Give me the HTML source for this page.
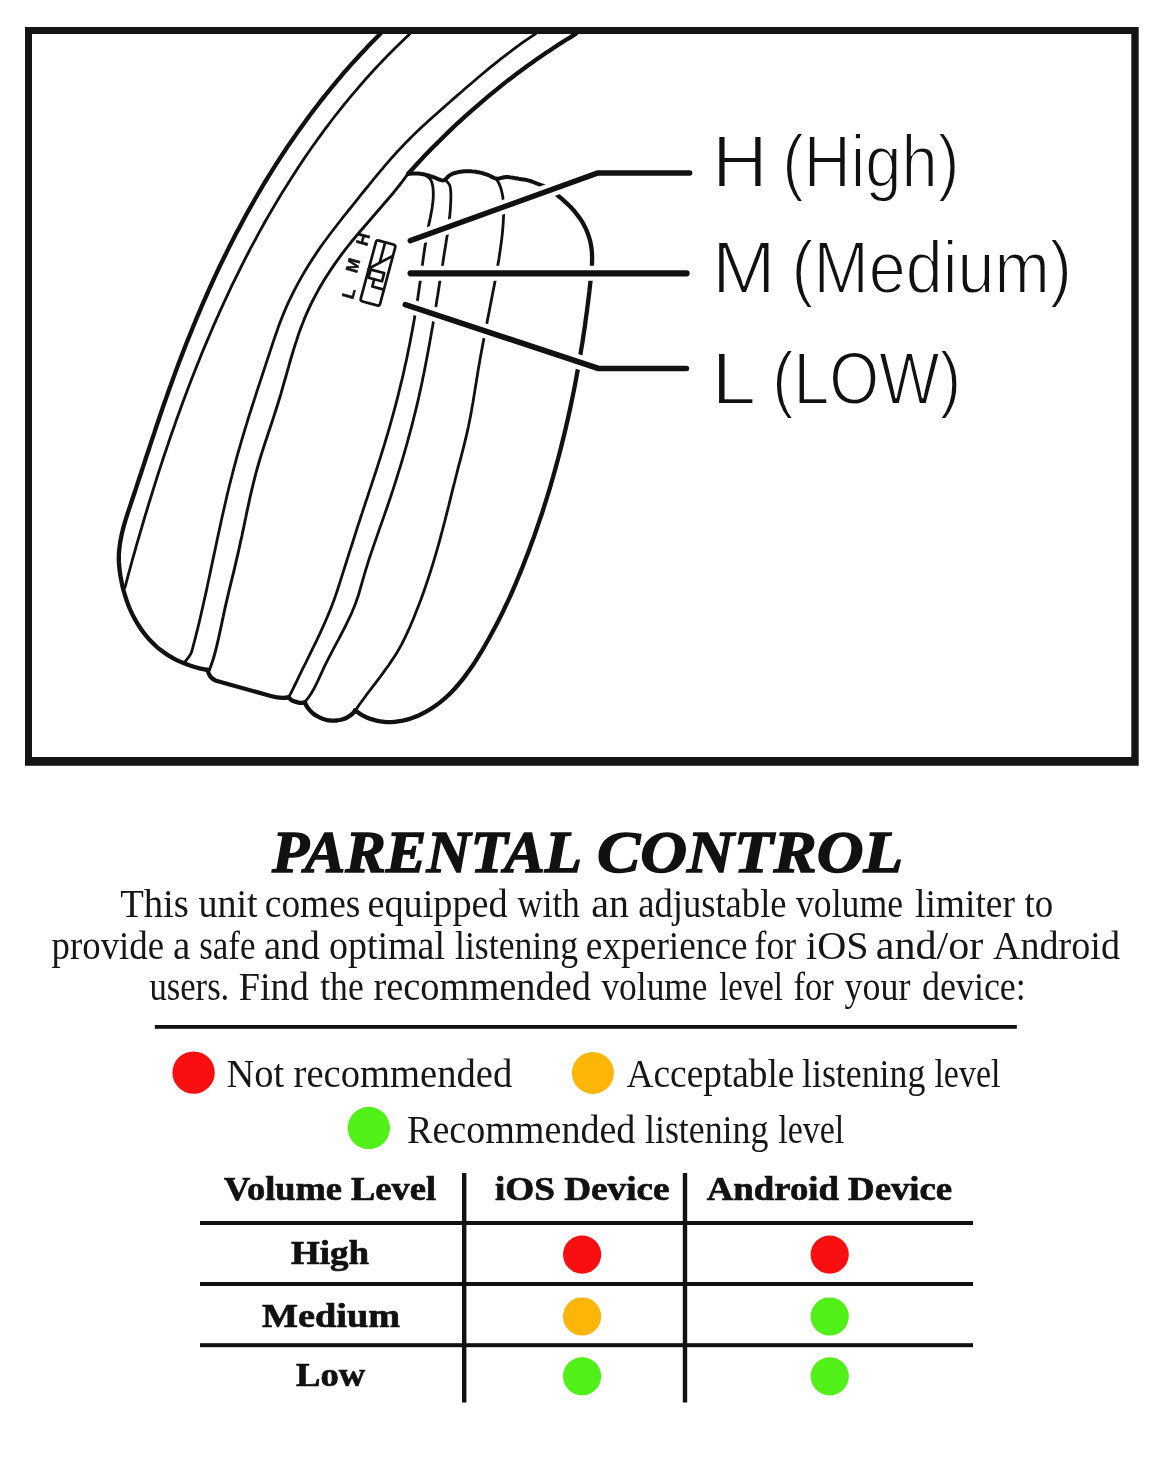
<!DOCTYPE html>
<html lang="en">
<head>
<meta charset="utf-8">
<title>Parental Control</title>
<style>
html,body{margin:0;padding:0;background:#fff;}
body{width:1171px;height:1463px;overflow:hidden;position:relative;}
svg{position:absolute;left:0;top:0;display:block;will-change:transform;}
.sans{font-family:"Liberation Sans",sans-serif;}
.serif{font-family:"Liberation Serif",serif;}
</style>
</head>
<body>
<svg width="1171" height="1463" viewBox="0 0 1171 1463">
<rect x="0" y="0" width="1171" height="1463" fill="#fff"/>
<!-- illustration frame -->
<path d="M25 27H1138.7V765.7H25ZM32 34V757H1131.3V34Z" fill="#141414" fill-rule="evenodd"/>
<clipPath id="fr"><rect x="31" y="33" width="1101" height="725"/></clipPath>
<g clip-path="url(#fr)">
<g fill="none" stroke="#111" stroke-linecap="round" stroke-linejoin="round">
<path d="M380.4 33.8C379.4 34.8 376.4 37.8 374.4 39.8C372.4 41.8 370.5 43.8 368.5 45.8C366.6 47.9 364.6 49.9 362.7 52.0C360.8 54.0 358.9 56.1 357.0 58.2C355.1 60.2 353.2 62.3 351.3 64.4C349.5 66.5 347.6 68.6 345.7 70.7C343.9 72.9 342.1 75.0 340.3 77.1C338.4 79.3 336.6 81.4 334.8 83.6C333.0 85.7 331.3 87.9 329.5 90.1C327.7 92.2 326.0 94.4 324.2 96.6C322.5 98.8 320.7 101.0 319.0 103.2C317.3 105.5 315.6 107.7 313.9 109.9C312.2 112.2 310.5 114.4 308.8 116.7C307.2 118.9 305.5 121.2 303.9 123.4C302.2 125.7 300.6 128.0 299.0 130.3C297.3 132.6 295.7 134.9 294.1 137.2C292.5 139.5 290.9 141.8 289.4 144.1C287.8 146.4 286.2 148.8 284.7 151.1C283.1 153.4 281.6 155.8 280.0 158.1C278.5 160.5 277.0 162.9 275.5 165.2C274.0 167.6 272.5 170.0 271.0 172.3C269.5 174.7 268.1 177.1 266.6 179.5C265.1 181.9 263.7 184.3 262.2 186.7C260.8 189.1 259.4 191.6 258.0 194.0C256.6 196.4 255.1 198.8 253.8 201.3C252.4 203.7 251.0 206.2 249.6 208.6C248.2 211.1 246.9 213.5 245.5 216.0C244.2 218.5 242.8 220.9 241.5 223.4C240.2 225.9 238.9 228.4 237.5 230.8C236.2 233.3 234.9 235.8 233.7 238.3C232.4 240.8 231.1 243.3 229.8 245.8C228.6 248.3 227.3 250.9 226.1 253.4C224.8 255.9 223.6 258.4 222.4 260.9C221.1 263.5 219.9 266.0 218.7 268.5C217.5 271.1 216.3 273.6 215.1 276.2C214.0 278.7 212.8 281.3 211.6 283.8C210.5 286.4 209.3 288.9 208.2 291.5C207.0 294.1 205.9 296.6 204.8 299.2C203.6 301.8 202.5 304.4 201.4 306.9C200.3 309.5 199.2 312.1 198.1 314.7C197.0 317.3 195.9 319.9 194.9 322.5C193.8 325.1 192.7 327.7 191.7 330.3C190.6 332.9 189.6 335.5 188.5 338.1C187.5 340.7 186.4 343.3 185.4 345.9C184.4 348.5 183.4 351.1 182.4 353.7C181.4 356.4 180.4 359.0 179.4 361.6C178.4 364.2 177.4 366.9 176.4 369.5C175.5 372.1 174.5 374.7 173.5 377.4C172.6 380.0 171.6 382.6 170.7 385.3C169.7 387.9 168.8 390.5 167.8 393.2C166.9 395.8 166.0 398.5 165.1 401.1C164.1 403.7 163.2 406.4 162.3 409.0C161.4 411.7 160.5 414.3 159.6 417.0C158.7 419.6 157.8 422.3 156.9 424.9C156.0 427.6 155.1 430.2 154.3 432.9C153.4 435.5 152.5 438.2 151.6 440.9C150.7 443.5 149.8 446.2 149.0 448.8C148.1 451.5 147.2 454.2 146.3 456.8C145.4 459.5 144.6 462.2 143.7 464.9C142.8 467.5 141.9 470.2 141.1 472.9C140.2 475.5 139.3 478.2 138.4 480.9C137.5 483.6 136.6 486.3 135.8 488.9C134.9 491.6 134.0 494.3 133.1 497.0C132.2 499.7 131.3 502.4 130.4 505.1C129.5 507.8 128.6 510.4 127.7 513.1C126.9 515.8 126.0 518.5 125.2 521.2C124.4 523.9 123.6 526.7 122.9 529.4C122.3 532.1 121.6 534.8 121.1 537.5C120.5 540.3 120.0 543.0 119.7 545.7C119.3 548.5 119.1 551.2 118.9 554.0C118.8 556.7 118.8 559.5 118.9 562.2C119.1 565.0 119.3 567.8 119.7 570.6C120.0 573.3 120.4 576.1 121.0 578.9C121.5 581.7 122.1 584.4 122.7 587.2C123.4 589.9 124.1 592.7 125.0 595.4C125.8 598.1 126.7 600.8 127.7 603.4C128.7 606.1 129.8 608.7 131.0 611.3C132.1 613.8 133.4 616.4 134.7 618.8C136.0 621.3 137.5 623.7 139.0 626.0C140.5 628.4 142.1 630.7 143.8 632.9C145.5 635.1 147.3 637.2 149.1 639.3C151.0 641.3 152.9 643.3 155.0 645.2C157.0 647.1 159.1 648.9 161.4 650.6C163.6 652.3 165.9 653.9 168.3 655.4C170.7 656.9 173.2 658.3 175.7 659.6C178.3 660.9 180.9 662.0 183.5 663.1C186.2 664.2 188.8 665.2 191.5 666.0C194.2 666.9 196.9 667.7 199.5 668.4C202.2 669.0 206.1 669.8 207.5 670.1" stroke-width="4.3"/>
<path d="M207.6 669.6C208.5 675 211.5 679 216.1 680.7L270.8 696C277 697.8 283 698.3 288.4 697.3" stroke-width="4.3"/>
<path d="M288.4 697.3C289.1 697.9 290.8 699.9 292.7 700.8C294.6 701.7 297.5 702.5 299.5 702.8C301.5 703.1 303.8 702.5 304.7 702.5" stroke-width="4.3"/>
<path d="M304.8 702.4C305.1 702.9 305.8 704.6 306.4 705.6C307.0 706.7 307.7 707.7 308.4 708.6C309.1 709.6 309.9 710.5 310.7 711.3C311.6 712.1 312.4 712.9 313.4 713.7C314.3 714.4 315.3 715.1 316.3 715.7C317.3 716.3 318.3 716.9 319.4 717.4C320.4 717.9 321.5 718.4 322.6 718.8C323.8 719.2 324.9 719.5 326.0 719.8C327.2 720.0 328.4 720.3 329.5 720.4C330.7 720.6 331.9 720.6 333.1 720.7C334.2 720.7 335.4 720.6 336.6 720.5C337.7 720.4 338.9 720.2 340.1 720.0C341.2 719.7 342.3 719.4 343.4 719.0C344.5 718.7 345.6 718.2 346.7 717.7C347.7 717.1 348.7 716.5 349.7 715.9C350.7 715.2 351.6 714.4 352.5 713.6C353.4 712.8 354.7 711.4 355.1 710.9" stroke-width="4.3"/>
<path d="M354.9 710.2C356.2 711.1 359.9 713.8 362.5 715.3C365.1 716.7 367.8 717.9 370.4 718.9C373.1 719.8 375.8 720.6 378.4 721.1C381.1 721.6 383.9 721.9 386.6 722.1C389.3 722.2 392.0 722.1 394.7 721.9C397.4 721.7 400.1 721.2 402.8 720.7C405.5 720.1 408.2 719.4 410.8 718.5C413.4 717.6 416.0 716.6 418.6 715.5C421.1 714.4 423.6 713.1 426.1 711.7C428.5 710.4 430.9 708.9 433.2 707.3C435.5 705.8 437.8 704.1 440.0 702.4C442.2 700.7 444.3 698.9 446.3 697.0C448.4 695.1 450.4 693.2 452.3 691.2C454.2 689.2 456.1 687.1 457.9 685.0C459.7 682.9 461.5 680.8 463.2 678.6C464.9 676.4 466.6 674.1 468.2 671.8C469.9 669.5 471.4 667.2 473.0 664.9C474.6 662.5 476.1 660.2 477.6 657.8C479.1 655.4 480.5 653.0 482.0 650.6C483.4 648.2 484.8 645.7 486.2 643.3C487.6 640.9 489.0 638.4 490.3 636.0C491.7 633.5 493.0 631.1 494.3 628.6C495.6 626.1 496.9 623.6 498.2 621.2C499.4 618.7 500.7 616.2 501.9 613.7C503.1 611.2 504.4 608.7 505.5 606.2C506.7 603.6 507.9 601.1 509.1 598.6C510.2 596.1 511.4 593.5 512.5 591.0C513.6 588.4 514.7 585.9 515.8 583.3C516.9 580.8 518.0 578.2 519.0 575.6C520.1 573.1 521.1 570.5 522.2 567.9C523.2 565.3 524.2 562.7 525.2 560.1C526.2 557.6 527.2 555.0 528.2 552.4C529.2 549.8 530.2 547.1 531.1 544.5C532.1 541.9 533.0 539.3 534.0 536.7C534.9 534.1 535.8 531.4 536.7 528.8C537.6 526.2 538.5 523.5 539.4 520.9C540.3 518.3 541.2 515.6 542.1 513.0C542.9 510.3 543.8 507.7 544.6 505.0C545.5 502.3 546.3 499.7 547.1 497.0C547.9 494.4 548.8 491.7 549.6 489.0C550.4 486.3 551.1 483.7 551.9 481.0C552.7 478.3 553.5 475.6 554.2 472.9C555.0 470.2 555.7 467.6 556.4 464.9C557.2 462.2 557.9 459.5 558.6 456.8C559.3 454.1 560.0 451.4 560.7 448.7C561.4 446.0 562.1 443.2 562.7 440.5C563.4 437.8 564.1 435.1 564.7 432.4C565.4 429.7 566.0 426.9 566.6 424.2C567.3 421.5 567.9 418.8 568.5 416.0C569.1 413.3 569.7 410.6 570.3 407.8C570.9 405.1 571.4 402.4 572.0 399.6C572.6 396.9 573.1 394.2 573.7 391.4C574.2 388.7 574.8 385.9 575.3 383.2C575.8 380.4 576.3 377.7 576.8 374.9C577.3 372.2 577.8 369.4 578.3 366.7C578.8 363.9 579.3 361.2 579.8 358.4C580.2 355.7 580.7 352.9 581.1 350.1C581.6 347.4 582.0 344.6 582.5 341.9C582.9 339.1 583.3 336.3 583.7 333.6C584.2 330.8 584.6 328.0 585.0 325.3C585.3 322.5 585.7 319.7 586.1 317.0C586.5 314.2 586.9 311.4 587.2 308.7C587.6 305.9 587.9 303.1 588.3 300.4C588.6 297.6 588.9 294.8 589.3 292.1C589.6 289.3 589.9 286.5 590.2 283.7C590.5 281.0 590.9 278.2 591.1 275.4C591.4 272.7 591.7 269.9 591.8 267.1C592.0 264.4 592.1 261.6 592.1 258.9C592.1 256.2 592.0 253.5 591.8 250.8C591.5 248.1 591.1 245.4 590.6 242.8C590.0 240.1 589.2 237.5 588.3 235.0C587.4 232.4 586.4 229.9 585.2 227.4C583.9 224.9 582.6 222.5 581.1 220.2C579.6 217.8 577.9 215.5 576.1 213.3C574.3 211.0 572.4 208.9 570.4 206.8C568.4 204.7 566.3 202.7 564.1 200.8C562.0 198.9 559.7 197.0 557.4 195.3C555.1 193.5 552.8 191.9 550.4 190.3C548.1 188.8 544.5 186.7 543.3 186.0" stroke-width="4.3"/>
<path d="M409.7 34.0C408.4 35.2 404.5 38.9 401.9 41.4C399.3 43.9 396.7 46.4 394.2 48.9C391.7 51.5 389.1 54.0 386.6 56.6C384.1 59.2 381.7 61.8 379.2 64.4C376.8 67.0 374.3 69.6 371.9 72.2C369.5 74.9 367.1 77.5 364.8 80.2C362.4 82.9 360.1 85.6 357.7 88.3C355.4 91.0 353.1 93.7 350.8 96.4C348.5 99.2 346.3 101.9 344.0 104.7C341.8 107.5 339.6 110.2 337.4 113.0C335.2 115.8 333.0 118.6 330.8 121.5C328.7 124.3 326.5 127.1 324.4 130.0C322.3 132.9 320.2 135.7 318.1 138.6C316.0 141.5 314.0 144.4 311.9 147.3C309.9 150.2 307.8 153.2 305.8 156.1C303.8 159.0 301.8 162.0 299.9 164.9C297.9 167.9 295.9 170.9 294.0 173.9C292.1 176.9 290.2 179.9 288.3 182.9C286.4 185.9 284.5 188.9 282.6 191.9C280.8 195.0 278.9 198.0 277.1 201.1C275.3 204.1 273.5 207.2 271.7 210.3C269.9 213.4 268.1 216.4 266.3 219.5C264.6 222.6 262.8 225.8 261.1 228.9C259.4 232.0 257.7 235.1 256.0 238.3C254.3 241.4 252.6 244.5 250.9 247.7C249.3 250.8 247.6 254.0 246.0 257.2C244.4 260.4 242.8 263.5 241.2 266.7C239.6 269.9 238.0 273.1 236.4 276.3C234.8 279.5 233.3 282.7 231.7 285.9C230.2 289.2 228.7 292.4 227.2 295.6C225.6 298.9 224.2 302.1 222.7 305.3C221.2 308.6 219.7 311.8 218.3 315.1C216.8 318.3 215.4 321.6 213.9 324.9C212.5 328.1 211.1 331.4 209.7 334.7C208.3 338.0 206.9 341.3 205.5 344.6C204.2 347.8 202.8 351.1 201.4 354.4C200.1 357.7 198.8 361.0 197.4 364.4C196.1 367.7 194.8 371.0 193.5 374.3C192.2 377.6 190.9 380.9 189.6 384.3C188.4 387.6 187.1 390.9 185.8 394.3C184.6 397.6 183.3 400.9 182.1 404.3C180.9 407.6 179.7 411.0 178.5 414.3C177.2 417.7 176.0 421.0 174.9 424.4C173.7 427.8 172.5 431.1 171.3 434.5C170.2 437.9 169.0 441.2 167.9 444.6C166.7 448.0 165.6 451.4 164.4 454.7C163.3 458.1 162.2 461.5 161.1 464.9C160.0 468.3 158.9 471.7 157.8 475.0C156.7 478.4 155.6 481.8 154.6 485.2C153.5 488.6 152.4 492.0 151.4 495.4C150.3 498.8 149.3 502.2 148.2 505.6C147.2 509.0 146.2 512.5 145.1 515.9C144.1 519.3 143.1 522.7 142.1 526.1C141.1 529.5 140.1 532.9 139.1 536.3C138.1 539.8 137.1 543.2 136.1 546.6C135.2 550.0 134.2 553.4 133.2 556.9C132.3 560.3 131.3 563.7 130.4 567.1C129.5 570.6 128.5 574.0 127.6 577.4C126.7 580.9 125.4 586.0 124.9 587.7" stroke-width="2.8"/>
<path d="M535.5 33.8C534.0 34.8 529.5 37.8 526.5 39.8C523.6 41.9 520.6 44.0 517.7 46.1C514.8 48.2 511.9 50.4 509.1 52.6C506.2 54.8 503.4 57.0 500.5 59.2C497.7 61.4 494.9 63.7 492.1 65.9C489.3 68.2 486.5 70.5 483.8 72.8C481.0 75.1 478.3 77.4 475.5 79.8C472.8 82.1 470.0 84.4 467.3 86.8C464.6 89.2 461.9 91.5 459.1 93.9C456.4 96.2 453.7 98.6 451.0 101.0C448.3 103.4 445.6 105.7 442.9 108.1C440.2 110.5 437.5 112.9 434.8 115.3C432.1 117.7 429.4 120.1 426.8 122.5C424.1 124.9 421.5 127.4 418.9 129.8C416.3 132.3 413.7 134.8 411.2 137.3C408.6 139.8 406.1 142.4 403.6 145.0C401.2 147.6 398.7 150.2 396.3 152.8C393.9 155.5 391.5 158.2 389.1 160.9C386.7 163.6 384.4 166.3 382.1 169.1C379.7 171.8 377.4 174.6 375.1 177.4C372.9 180.2 370.6 183.0 368.3 185.8C366.0 188.6 363.8 191.4 361.5 194.2C359.3 197.0 357.0 199.8 354.8 202.6C352.5 205.4 350.3 208.2 348.0 211.0C345.8 213.9 343.5 216.7 341.3 219.5C339.1 222.3 336.9 225.1 334.7 228.0C332.5 230.8 330.3 233.7 328.2 236.5C326.0 239.4 323.9 242.3 321.8 245.2C319.8 248.2 317.7 251.1 315.7 254.1C313.7 257.1 311.7 260.1 309.8 263.2C307.9 266.3 306.0 269.3 304.2 272.4C302.4 275.6 300.6 278.7 298.8 281.9C297.1 285.0 295.4 288.2 293.8 291.4C292.1 294.7 290.6 297.9 289.0 301.2C287.5 304.4 286.0 307.7 284.6 311.1C283.2 314.4 281.9 317.7 280.6 321.1C279.3 324.4 278.1 327.8 276.9 331.2C275.7 334.6 274.5 338.0 273.4 341.4C272.3 344.8 271.1 348.2 270.0 351.7C268.9 355.1 267.8 358.5 266.6 361.9C265.5 365.3 264.4 368.8 263.2 372.2C262.1 375.6 261.0 379.0 259.9 382.4C258.7 385.9 257.6 389.3 256.5 392.7C255.4 396.1 254.3 399.6 253.2 403.0C252.1 406.4 251.0 409.8 249.9 413.3C248.8 416.7 247.7 420.2 246.7 423.6C245.6 427.0 244.6 430.5 243.6 433.9C242.5 437.4 241.5 440.8 240.5 444.3C239.5 447.8 238.5 451.2 237.5 454.7C236.6 458.1 235.6 461.6 234.7 465.1C233.8 468.6 232.8 472.0 232.0 475.5C231.1 479.0 230.2 482.5 229.3 486.0C228.5 489.5 227.6 493.0 226.8 496.5C226.0 500.0 225.2 503.5 224.4 507.0C223.6 510.5 222.8 514.0 222.0 517.5C221.2 521.0 220.5 524.6 219.7 528.1C218.9 531.6 218.2 535.1 217.4 538.6C216.7 542.2 215.9 545.7 215.2 549.2C214.4 552.8 213.7 556.3 212.9 559.8C212.2 563.4 211.4 566.9 210.7 570.4C209.9 573.9 209.2 577.5 208.4 581.0C207.7 584.5 206.9 588.1 206.2 591.6C205.4 595.1 204.6 598.6 203.8 602.1C203.0 605.7 202.2 609.2 201.4 612.7C200.6 616.2 199.8 619.7 199.0 623.2C198.1 626.7 197.3 630.2 196.4 633.6C195.5 637.1 194.7 640.6 193.7 644.0C192.8 647.5 192.2 651.1 190.6 654.2C189.0 657.3 185.3 661.3 184.3 662.7" stroke-width="2.8"/>
<path d="M575.6 34.0C574.0 35.0 569.1 38.0 565.8 40.0C562.6 42.1 559.3 44.1 556.1 46.2C552.9 48.3 549.7 50.4 546.5 52.6C543.3 54.7 540.2 56.9 537.0 59.1C533.9 61.3 530.7 63.5 527.6 65.7C524.5 68.0 521.4 70.3 518.4 72.5C515.3 74.8 512.2 77.2 509.2 79.5C506.2 81.9 503.1 84.2 500.2 86.6C497.2 89.0 494.2 91.4 491.2 93.9C488.3 96.3 485.3 98.8 482.4 101.3C479.5 103.7 476.6 106.3 473.7 108.8C470.8 111.3 468.0 113.9 465.1 116.4C462.3 119.0 459.4 121.6 456.6 124.2C453.8 126.8 451.1 129.5 448.3 132.1C445.5 134.8 442.8 137.5 440.1 140.2C437.3 142.9 434.6 145.6 431.9 148.3C429.3 151.1 426.6 153.8 423.9 156.6C421.3 159.4 418.7 162.2 416.1 165.0C413.5 167.8 409.6 172.1 408.3 173.5" stroke-width="4.3"/>
<path d="M408.3 173.5C407.3 174.7 404.6 178.4 402.8 180.9C400.9 183.3 399.0 185.7 397.1 188.1C395.2 190.5 393.3 192.9 391.3 195.2C389.3 197.6 387.3 199.9 385.3 202.3C383.3 204.6 381.3 206.9 379.3 209.3C377.3 211.6 375.3 213.9 373.2 216.2C371.2 218.6 369.2 220.9 367.2 223.2C365.2 225.5 363.1 227.9 361.1 230.2C359.2 232.5 357.2 234.9 355.2 237.3C353.2 239.6 351.3 242.0 349.4 244.4C347.4 246.8 345.5 249.2 343.7 251.7C341.8 254.1 340.0 256.6 338.2 259.1C336.4 261.6 334.6 264.1 332.9 266.6C331.1 269.2 329.5 271.7 327.8 274.3C326.1 276.9 324.5 279.5 322.9 282.1C321.4 284.8 319.8 287.4 318.3 290.1C316.8 292.8 315.4 295.5 314.0 298.2C312.6 300.9 311.2 303.7 309.9 306.4C308.6 309.2 307.3 312.0 306.1 314.8C304.9 317.6 303.8 320.4 302.7 323.3C301.5 326.1 300.5 329.0 299.4 331.9C298.4 334.8 297.4 337.7 296.5 340.6C295.5 343.5 294.6 346.4 293.7 349.4C292.8 352.3 291.9 355.3 291.0 358.2C290.2 361.2 289.3 364.1 288.5 367.1C287.6 370.1 286.8 373.0 286.0 376.0C285.1 379.0 284.3 382.0 283.4 384.9C282.6 387.9 281.7 390.9 280.9 393.8C280.0 396.8 279.1 399.7 278.2 402.7C277.3 405.6 276.4 408.5 275.4 411.5C274.5 414.4 273.5 417.3 272.6 420.2C271.6 423.1 270.6 426.1 269.7 429.0C268.7 431.9 267.7 434.8 266.8 437.7C265.8 440.6 264.8 443.5 263.9 446.5C263.0 449.4 262.0 452.3 261.1 455.2C260.2 458.2 259.4 461.1 258.5 464.0C257.6 467.0 256.8 469.9 256.0 472.9C255.2 475.8 254.5 478.8 253.7 481.8C253.0 484.8 252.3 487.7 251.6 490.7C250.9 493.7 250.2 496.7 249.5 499.7C248.9 502.7 248.2 505.7 247.6 508.7C246.9 511.7 246.3 514.7 245.7 517.7C245.0 520.8 244.4 523.8 243.8 526.8C243.1 529.8 242.5 532.8 241.9 535.8C241.2 538.8 240.6 541.8 239.9 544.8C239.3 547.8 238.6 550.8 237.9 553.8C237.2 556.8 236.5 559.8 235.8 562.8C235.1 565.8 234.4 568.8 233.7 571.8C233.0 574.7 232.2 577.7 231.5 580.7C230.8 583.7 230.1 586.7 229.3 589.7C228.6 592.7 227.9 595.7 227.2 598.6C226.5 601.6 225.8 604.6 225.1 607.6C224.5 610.6 223.8 613.6 223.2 616.6C222.5 619.7 221.9 622.7 221.3 625.7C220.6 628.7 220.0 631.7 219.3 634.7C218.7 637.7 218.0 640.7 217.3 643.7C216.6 646.6 215.9 649.6 215.1 652.5C214.3 655.5 213.5 658.4 212.5 661.3C211.6 664.1 210.0 668.4 209.5 669.8" stroke-width="2.9"/>
<path d="M408.3 174.0C408.6 174.0 409.7 173.8 410.4 173.7C411.1 173.6 411.8 173.6 412.5 173.5C413.2 173.5 413.8 173.5 414.5 173.5C415.2 173.4 415.9 173.5 416.6 173.5C417.3 173.5 417.9 173.5 418.6 173.6C419.3 173.7 419.9 173.7 420.6 173.8C421.3 173.9 422.0 174.0 422.6 174.1C423.3 174.2 423.9 174.4 424.6 174.5C425.3 174.6 425.9 174.8 426.6 175.0C427.2 175.1 427.9 175.3 428.6 175.5C429.2 175.7 429.9 175.9 430.5 176.1C431.2 176.3 431.8 176.5 432.5 176.8C433.2 177.0 433.8 177.3 434.5 177.5C435.2 177.8 435.9 178.1 436.6 178.4C437.3 178.7 438.0 179.0 438.7 179.3C439.3 179.6 440.0 179.8 440.7 180.0C441.4 180.2 442.0 180.4 442.7 180.4C443.3 180.4 443.9 180.3 444.4 180.1C444.9 179.9 445.4 179.4 445.9 179.0C446.4 178.6 446.8 178.0 447.2 177.5C447.7 177.0 448.2 176.5 448.7 176.1C449.3 175.7 449.8 175.3 450.4 174.9C450.9 174.6 451.5 174.3 452.1 174.0C452.7 173.7 453.4 173.5 454.0 173.3C454.6 173.0 455.3 172.8 455.9 172.7C456.6 172.5 457.3 172.3 457.9 172.2C458.6 172.0 459.3 171.9 460.0 171.8C460.7 171.7 461.3 171.6 462.0 171.5C462.7 171.4 463.4 171.4 464.1 171.3C464.8 171.3 465.5 171.2 466.2 171.2C466.9 171.2 467.6 171.2 468.3 171.2C469.0 171.2 469.7 171.2 470.4 171.2C471.1 171.3 471.8 171.3 472.5 171.4C473.2 171.4 473.9 171.5 474.5 171.6C475.2 171.7 475.9 171.8 476.6 171.9C477.3 172.0 478.0 172.1 478.6 172.2C479.3 172.4 480.0 172.5 480.6 172.7C481.3 172.8 481.9 173.0 482.6 173.2C483.2 173.4 483.9 173.6 484.5 173.8C485.2 174.0 485.8 174.2 486.4 174.4C487.1 174.7 487.7 174.9 488.3 175.2C488.9 175.4 489.6 175.7 490.2 176.0C490.8 176.3 491.4 176.6 492.0 176.9C492.6 177.2 493.3 177.6 493.9 177.9C494.5 178.1 495.1 178.4 495.7 178.6C496.4 178.7 497.0 178.7 497.7 178.7C498.3 178.7 499.0 178.5 499.7 178.3C500.3 178.2 501.0 178.0 501.7 177.8C502.4 177.6 503.1 177.5 503.7 177.3C504.4 177.2 505.1 177.2 505.8 177.1C506.5 177.1 507.2 177.1 507.8 177.1C508.5 177.2 509.2 177.2 509.9 177.3C510.6 177.4 511.3 177.4 511.9 177.6C512.6 177.7 513.3 177.8 514.0 177.9C514.7 178.0 515.3 178.1 516.0 178.3C516.7 178.4 517.4 178.5 518.1 178.6C518.7 178.8 519.4 178.9 520.1 179.0C520.8 179.1 521.5 179.2 522.1 179.3C522.8 179.4 523.5 179.4 524.2 179.5C524.8 179.6 525.5 179.8 526.2 179.9C526.8 180.1 527.5 180.2 528.1 180.4C528.8 180.6 529.4 180.8 530.1 181.0C530.8 181.2 531.4 181.4 532.1 181.7C532.7 181.9 533.3 182.1 534.0 182.4C534.6 182.6 535.3 182.9 535.9 183.1C536.6 183.4 537.2 183.6 537.9 183.9C538.5 184.1 539.2 184.4 539.8 184.6C540.4 184.9 541.1 185.1 541.7 185.3C542.4 185.5 543.4 185.8 543.7 185.9" stroke-width="4.0"/>
<path d="M424.8 174.4C425.8 175.3 429.3 177.6 430.7 179.7C432.0 181.8 432.4 184.5 432.9 187.0C433.3 189.6 433.3 192.3 433.3 194.9C433.3 197.5 433.1 200.1 432.8 202.8C432.5 205.4 432.1 208.0 431.6 210.7C431.2 213.3 430.6 216.0 430.1 218.6C429.5 221.2 428.9 223.9 428.4 226.5C427.9 229.2 427.4 231.8 426.9 234.4C426.4 237.1 426.0 239.7 425.6 242.3C425.2 244.9 424.8 247.6 424.4 250.2C424.0 252.8 423.7 255.4 423.3 258.1C422.9 260.7 422.6 263.3 422.3 265.9C421.9 268.5 421.6 271.1 421.2 273.8C420.9 276.4 420.5 279.0 420.2 281.6C419.8 284.2 419.4 286.9 419.0 289.5C418.7 292.1 418.3 294.7 417.9 297.3C417.5 300.0 417.1 302.6 416.6 305.2C416.2 307.8 415.8 310.4 415.3 313.1C414.9 315.7 414.5 318.3 414.0 320.9C413.5 323.5 413.1 326.2 412.6 328.8C412.1 331.4 411.6 334.0 411.1 336.6C410.6 339.2 410.1 341.8 409.6 344.4C409.1 347.1 408.5 349.7 408.0 352.3C407.5 354.9 406.9 357.5 406.4 360.1C405.8 362.7 405.2 365.3 404.6 367.9C404.1 370.5 403.5 373.1 402.9 375.7C402.3 378.3 401.7 380.9 401.0 383.4C400.4 386.0 399.8 388.6 399.1 391.2C398.5 393.8 397.9 396.4 397.2 398.9C396.5 401.5 395.9 404.1 395.2 406.6C394.5 409.2 393.8 411.8 393.1 414.3C392.4 416.9 391.7 419.4 391.0 422.0C390.3 424.5 389.5 427.1 388.8 429.6C388.1 432.2 387.3 434.7 386.5 437.3C385.8 439.8 385.0 442.4 384.3 444.9C383.5 447.4 382.7 450.0 381.9 452.5C381.1 455.0 380.3 457.6 379.5 460.1C378.7 462.6 377.9 465.2 377.1 467.7C376.3 470.2 375.5 472.7 374.6 475.3C373.8 477.8 373.0 480.3 372.1 482.8C371.3 485.4 370.5 487.9 369.6 490.4C368.8 492.9 367.9 495.4 367.1 498.0C366.2 500.5 365.4 503.0 364.6 505.5C363.7 508.1 362.9 510.6 362.1 513.1C361.2 515.6 360.4 518.2 359.6 520.7C358.8 523.2 357.9 525.7 357.1 528.3C356.3 530.8 355.5 533.3 354.7 535.9C353.9 538.4 353.1 540.9 352.3 543.5C351.5 546.0 350.6 548.5 349.8 551.1C349.0 553.6 348.2 556.1 347.4 558.7C346.6 561.2 345.8 563.7 345.0 566.2C344.2 568.8 343.4 571.3 342.6 573.8C341.8 576.4 341.0 578.9 340.2 581.4C339.4 584.0 338.6 586.5 337.8 589.0C337.0 591.5 336.1 594.1 335.2 596.6C334.4 599.1 333.5 601.6 332.5 604.0C331.6 606.5 330.6 609.0 329.6 611.4C328.6 613.9 327.6 616.3 326.5 618.8C325.5 621.2 324.4 623.7 323.3 626.1C322.2 628.5 321.1 630.9 320.0 633.3C318.9 635.7 317.7 638.2 316.6 640.6C315.5 643.0 314.3 645.3 313.1 647.7C312.0 650.1 310.8 652.5 309.6 654.9C308.4 657.3 307.2 659.7 306.1 662.1C304.9 664.4 303.7 666.8 302.5 669.2C301.4 671.6 300.2 674.0 299.0 676.4C297.9 678.7 296.7 681.1 295.6 683.5C294.4 685.9 293.3 688.3 292.1 690.7C291.0 693.0 289.0 696.5 288.4 697.7" stroke-width="2.8"/>
<path d="M444.7 179.3C445.5 180.2 448.6 182.8 449.6 185.0C450.6 187.3 450.6 190.0 450.8 192.6C451.0 195.1 450.8 197.8 450.8 200.5C450.7 203.1 450.6 205.8 450.4 208.4C450.2 211.0 450.0 213.7 449.7 216.3C449.4 218.9 449.1 221.6 448.8 224.2C448.4 226.9 448.1 229.5 447.7 232.1C447.3 234.8 446.9 237.4 446.4 240.1C446.0 242.7 445.6 245.3 445.2 248.0C444.7 250.6 444.3 253.2 443.9 255.9C443.5 258.5 443.1 261.1 442.7 263.8C442.2 266.4 441.8 269.0 441.4 271.7C441.0 274.3 440.6 276.9 440.2 279.6C439.7 282.2 439.3 284.8 438.9 287.5C438.5 290.1 438.1 292.7 437.7 295.3C437.2 298.0 436.8 300.6 436.4 303.2C436.0 305.8 435.5 308.5 435.1 311.1C434.7 313.7 434.2 316.3 433.8 319.0C433.4 321.6 432.9 324.2 432.5 326.8C432.0 329.4 431.6 332.0 431.1 334.7C430.7 337.3 430.2 339.9 429.7 342.5C429.3 345.1 428.8 347.7 428.3 350.3C427.8 352.9 427.3 355.5 426.8 358.2C426.3 360.8 425.8 363.4 425.3 366.0C424.8 368.6 424.3 371.2 423.8 373.8C423.2 376.4 422.7 379.0 422.2 381.6C421.6 384.2 421.1 386.8 420.5 389.4C419.9 392.0 419.3 394.5 418.8 397.1C418.2 399.7 417.6 402.3 417.0 404.9C416.4 407.5 415.7 410.1 415.1 412.7C414.5 415.2 413.8 417.8 413.2 420.4C412.5 423.0 411.9 425.6 411.2 428.1C410.5 430.7 409.8 433.3 409.1 435.8C408.4 438.4 407.7 441.0 407.0 443.5C406.3 446.1 405.6 448.7 404.8 451.2C404.1 453.8 403.3 456.3 402.6 458.9C401.8 461.5 401.1 464.0 400.3 466.6C399.5 469.1 398.7 471.6 397.9 474.2C397.1 476.7 396.3 479.3 395.5 481.8C394.7 484.3 393.9 486.9 393.1 489.4C392.2 491.9 391.4 494.5 390.6 497.0C389.7 499.5 388.9 502.0 388.0 504.5C387.2 507.1 386.3 509.6 385.4 512.1C384.5 514.6 383.7 517.1 382.8 519.6C381.9 522.1 381.0 524.6 380.1 527.1C379.2 529.6 378.4 532.1 377.5 534.6C376.6 537.1 375.7 539.6 374.9 542.1C374.0 544.6 373.1 547.1 372.3 549.6C371.4 552.2 370.6 554.7 369.7 557.2C368.9 559.7 368.1 562.3 367.3 564.8C366.5 567.3 365.7 569.9 365.0 572.4C364.2 575.0 363.5 577.6 362.7 580.1C362.0 582.7 361.3 585.3 360.5 587.8C359.8 590.4 359.1 593.0 358.3 595.5C357.4 598.0 356.6 600.5 355.7 603.0C354.8 605.5 353.8 608.0 352.7 610.4C351.7 612.9 350.6 615.3 349.5 617.7C348.4 620.1 347.2 622.5 346.0 624.9C344.9 627.3 343.6 629.6 342.4 632.0C341.2 634.3 339.9 636.7 338.7 639.1C337.4 641.4 336.2 643.7 334.9 646.1C333.7 648.5 332.4 650.8 331.2 653.2C329.9 655.5 328.7 657.9 327.5 660.3C326.3 662.6 325.1 665.0 324.0 667.4C322.9 669.8 321.8 672.3 320.7 674.7C319.6 677.1 318.5 679.5 317.4 681.9C316.2 684.3 315.1 686.7 313.8 689.0C312.5 691.3 311.2 693.6 309.7 695.8C308.2 698.0 305.5 701.1 304.7 702.1" stroke-width="2.8"/>
<path d="M496.4 178.6C497.0 179.8 499.0 183.3 500.0 185.8C500.9 188.3 501.6 190.9 502.2 193.5C502.7 196.1 503.1 198.7 503.3 201.4C503.6 204.1 503.6 206.8 503.6 209.5C503.7 212.3 503.6 215.0 503.5 217.7C503.4 220.5 503.2 223.2 503.0 225.9C502.8 228.6 502.5 231.4 502.3 234.1C502.0 236.8 501.7 239.5 501.3 242.2C501.0 244.9 500.6 247.6 500.2 250.3C499.8 253.0 499.4 255.7 499.0 258.4C498.5 261.1 498.1 263.7 497.6 266.4C497.2 269.1 496.7 271.8 496.2 274.4C495.7 277.1 495.3 279.8 494.8 282.5C494.3 285.1 493.8 287.8 493.2 290.5C492.7 293.1 492.2 295.8 491.7 298.5C491.2 301.1 490.7 303.8 490.1 306.5C489.6 309.1 489.1 311.8 488.6 314.4C488.0 317.1 487.5 319.8 487.0 322.4C486.5 325.1 485.9 327.7 485.4 330.4C484.9 333.1 484.4 335.7 483.9 338.4C483.4 341.1 482.9 343.7 482.4 346.4C481.9 349.1 481.4 351.7 480.9 354.4C480.4 357.1 480.0 359.8 479.5 362.4C479.0 365.1 478.6 367.8 478.1 370.5C477.7 373.2 477.3 375.8 476.8 378.5C476.4 381.2 476.0 383.9 475.5 386.6C475.1 389.3 474.7 392.0 474.2 394.6C473.8 397.3 473.3 400.0 472.9 402.7C472.4 405.4 471.9 408.1 471.5 410.7C471.0 413.4 470.5 416.1 470.0 418.7C469.4 421.4 468.9 424.1 468.4 426.7C467.8 429.4 467.2 432.0 466.6 434.7C466.0 437.3 465.4 440.0 464.7 442.6C464.1 445.2 463.4 447.9 462.7 450.5C462.1 453.1 461.4 455.7 460.7 458.4C460.0 461.0 459.3 463.6 458.6 466.2C457.9 468.9 457.2 471.5 456.6 474.1C455.9 476.8 455.2 479.4 454.6 482.0C453.9 484.7 453.2 487.3 452.6 489.9C451.9 492.6 451.3 495.2 450.6 497.9C450.0 500.5 449.3 503.1 448.7 505.8C448.0 508.4 447.3 511.0 446.7 513.7C446.0 516.3 445.3 518.9 444.7 521.6C444.0 524.2 443.3 526.8 442.6 529.5C441.9 532.1 441.2 534.7 440.5 537.3C439.8 540.0 439.1 542.6 438.4 545.2C437.6 547.8 436.9 550.4 436.1 553.0C435.4 555.6 434.6 558.2 433.8 560.8C433.0 563.4 432.2 566.0 431.4 568.6C430.6 571.2 429.8 573.8 428.9 576.4C428.1 579.0 427.2 581.5 426.3 584.1C425.5 586.7 424.6 589.2 423.7 591.8C422.8 594.4 421.8 596.9 420.9 599.5C419.9 602.0 419.0 604.5 418.0 607.1C417.0 609.6 416.0 612.1 415.0 614.7C414.0 617.2 413.0 619.7 411.9 622.2C410.8 624.7 409.8 627.2 408.7 629.7C407.5 632.2 406.4 634.6 405.2 637.1C404.0 639.5 402.8 641.9 401.6 644.3C400.3 646.7 399.0 649.1 397.6 651.4C396.2 653.7 394.8 656.0 393.3 658.3C391.8 660.5 390.3 662.8 388.8 665.0C387.2 667.2 385.6 669.4 384.0 671.6C382.4 673.8 380.8 676.0 379.2 678.2C377.5 680.3 375.9 682.5 374.2 684.7C372.6 686.8 370.9 689.0 369.3 691.2C367.6 693.3 366.0 695.5 364.4 697.7C362.8 699.9 361.2 702.1 359.6 704.3C358.1 706.5 355.8 709.9 355.0 711.0" stroke-width="2.8"/>
</g>
<!-- switch -->
<g transform="translate(378,273) rotate(15)" fill="none" stroke="#111" stroke-width="2.7" stroke-linejoin="round" stroke-linecap="round">
<rect x="-10" y="-31.5" width="20" height="63" rx="2.5"/>
<path d="M-1 -30 L-1 -11"/>
<path d="M9.5 -20 L-10 -2"/>
<path d="M-8 -1.5 L6 -1.5 L6 7 L-8 7 Z"/>
<path d="M-2 7 L-2 14.5 L9 14.5"/>
</g>
<g class="sans" font-family="Liberation Sans, sans-serif" font-weight="700" font-size="17" fill="#111" stroke="#111" stroke-width="0.5" text-anchor="middle">
<text transform="translate(362.7,239.2) rotate(-75)" x="0" y="6">H</text>
<text transform="translate(352.9,265.3) rotate(-75)" x="0" y="6">M</text>
<text transform="translate(348.6,293.4) rotate(-75)" x="0" y="6">L</text>
</g>
<!-- callouts -->
<g fill="none" stroke-linecap="round" stroke-linejoin="round">
<g stroke="#fff">
<path d="M410.3 240.6 L598 172.9 L689.6 172.9" stroke-width="14"/>
<path d="M410.6 273.3 L686.6 273.3" stroke-width="15"/>
<path d="M405.3 304.6 L598.6 368.5 L686.4 368.5" stroke-width="14.5"/>
</g>
<g stroke="#111">
<path d="M410.3 240.6 L598 172.9 L689.6 172.9" stroke-width="5.5"/>
<path d="M410.6 273.3 L686.6 273.3" stroke-width="6.2"/>
<path d="M405.3 304.6 L598.6 368.5 L686.4 368.5" stroke-width="5.6"/>
</g>
</g>
<g font-family="Liberation Sans, sans-serif" font-size="75" fill="#111" stroke="#fff" stroke-width="1.8">
<text y="186.8"><tspan x="712.0" textLength="55.8" lengthAdjust="spacingAndGlyphs">H</tspan> <tspan x="782.2" textLength="177.2" lengthAdjust="spacingAndGlyphs">(High)</tspan></text>
<text y="292.6"><tspan x="712.0" textLength="63.7" lengthAdjust="spacingAndGlyphs">M</tspan> <tspan x="791.4" textLength="280.6" lengthAdjust="spacingAndGlyphs">(Medium)</tspan></text>
<text y="404.3"><tspan x="711.4" textLength="41.6" lengthAdjust="spacingAndGlyphs">L</tspan> <tspan x="772.2" textLength="188.8" lengthAdjust="spacingAndGlyphs">(LOW)</tspan></text>
</g>
</g>
<g font-family="Liberation Serif, serif" font-size="60" font-weight="700" font-style="italic" fill="#111" stroke="#111" stroke-width="1.4">
<text x="272.0" y="871.8" textLength="310.0" lengthAdjust="spacingAndGlyphs">PARENTAL</text>
<text x="597.0" y="871.8" textLength="306.1" lengthAdjust="spacingAndGlyphs">CONTROL</text>
</g>
<g font-family="Liberation Serif, serif" font-size="40" fill="#161616">
<text y="916.7"><tspan x="120.2" textLength="68.7" lengthAdjust="spacingAndGlyphs">This</tspan> <tspan x="198.4" textLength="59.2" lengthAdjust="spacingAndGlyphs">unit</tspan> <tspan x="264.8" textLength="95.5" lengthAdjust="spacingAndGlyphs">comes</tspan> <tspan x="367.4" textLength="140.3" lengthAdjust="spacingAndGlyphs">equipped</tspan> <tspan x="517.6" textLength="62.0" lengthAdjust="spacingAndGlyphs">with</tspan> <tspan x="591.2" textLength="37.7" lengthAdjust="spacingAndGlyphs">an</tspan> <tspan x="638.2" textLength="148.4" lengthAdjust="spacingAndGlyphs">adjustable</tspan> <tspan x="796.0" textLength="107.0" lengthAdjust="spacingAndGlyphs">volume</tspan> <tspan x="915.0" textLength="100.0" lengthAdjust="spacingAndGlyphs">limiter</tspan> <tspan x="1024.4" textLength="28.7" lengthAdjust="spacingAndGlyphs">to</tspan></text>
<text y="958.6"><tspan x="51.6" textLength="112.5" lengthAdjust="spacingAndGlyphs">provide</tspan> <tspan x="173.0" textLength="17.3" lengthAdjust="spacingAndGlyphs">a</tspan> <tspan x="199.2" textLength="56.3" lengthAdjust="spacingAndGlyphs">safe</tspan> <tspan x="264.0" textLength="55.7" lengthAdjust="spacingAndGlyphs">and</tspan> <tspan x="329.0" textLength="116.0" lengthAdjust="spacingAndGlyphs">optimal</tspan> <tspan x="455.0" textLength="123.0" lengthAdjust="spacingAndGlyphs">listening</tspan> <tspan x="585.8" textLength="161.9" lengthAdjust="spacingAndGlyphs">experience</tspan> <tspan x="754.6" textLength="41.5" lengthAdjust="spacingAndGlyphs">for</tspan> <tspan x="806.0" textLength="62.5" lengthAdjust="spacingAndGlyphs">iOS</tspan> <tspan x="875.8" textLength="107.6" lengthAdjust="spacingAndGlyphs">and/or</tspan> <tspan x="993.0" textLength="127.0" lengthAdjust="spacingAndGlyphs">Android</tspan></text>
<text y="999.5"><tspan x="149.4" textLength="79.9" lengthAdjust="spacingAndGlyphs">users.</tspan> <tspan x="238.8" textLength="69.9" lengthAdjust="spacingAndGlyphs">Find</tspan> <tspan x="320.2" textLength="43.5" lengthAdjust="spacingAndGlyphs">the</tspan> <tspan x="373.4" textLength="217.6" lengthAdjust="spacingAndGlyphs">recommended</tspan> <tspan x="601.4" textLength="106.2" lengthAdjust="spacingAndGlyphs">volume</tspan> <tspan x="719.2" textLength="63.7" lengthAdjust="spacingAndGlyphs">level</tspan> <tspan x="793.4" textLength="40.3" lengthAdjust="spacingAndGlyphs">for</tspan> <tspan x="844.6" textLength="65.8" lengthAdjust="spacingAndGlyphs">your</tspan> <tspan x="922.0" textLength="103.8" lengthAdjust="spacingAndGlyphs">device:</tspan></text>
<text y="1086.8"><tspan x="226.4" textLength="57.7" lengthAdjust="spacingAndGlyphs">Not</tspan> <tspan x="293.6" textLength="218.6" lengthAdjust="spacingAndGlyphs">recommended</tspan></text>
<text y="1086.8"><tspan x="626.6" textLength="167.8" lengthAdjust="spacingAndGlyphs">Acceptable</tspan> <tspan x="802.0" textLength="123.4" lengthAdjust="spacingAndGlyphs">listening</tspan> <tspan x="934.4" textLength="66.0" lengthAdjust="spacingAndGlyphs">level</tspan></text>
<text y="1143.1"><tspan x="407.0" textLength="228.4" lengthAdjust="spacingAndGlyphs">Recommended</tspan> <tspan x="645.0" textLength="123.4" lengthAdjust="spacingAndGlyphs">listening</tspan> <tspan x="778.2" textLength="66.1" lengthAdjust="spacingAndGlyphs">level</tspan></text>
</g>
<g font-family="Liberation Serif, serif" font-size="34" font-weight="700" fill="#111" stroke="#111" stroke-width="0.7">
<text x="224.0" y="1200.3" textLength="212.0" lengthAdjust="spacingAndGlyphs">Volume Level</text>
<text x="494.9" y="1200.3" textLength="174.6" lengthAdjust="spacingAndGlyphs">iOS Device</text>
<text x="706.8" y="1200.3" textLength="245.4" lengthAdjust="spacingAndGlyphs">Android Device</text>
<text x="291.0" y="1264.2" textLength="78.1" lengthAdjust="spacingAndGlyphs">High</text>
<text x="262.0" y="1326.8" textLength="138.0" lengthAdjust="spacingAndGlyphs">Medium</text>
<text x="296.0" y="1385.9" textLength="69.1" lengthAdjust="spacingAndGlyphs">Low</text>
</g>
<!-- rule under paragraph -->
<rect x="154.8" y="1025" width="862" height="3.8" fill="#111"/>
<!-- legend dots -->
<circle cx="193.6" cy="1072.6" r="21.2" fill="#f90f0f"/>
<circle cx="592.9" cy="1072.9" r="21" fill="#fdb507"/>
<circle cx="368.8" cy="1128" r="21.2" fill="#50f018"/>
<!-- table lines -->
<g fill="#111">
<rect x="200" y="1221" width="773" height="4"/>
<rect x="200" y="1282" width="773" height="4"/>
<rect x="200" y="1343.2" width="773" height="4"/>
<rect x="462" y="1173" width="4.4" height="229.5"/>
<rect x="682.8" y="1173" width="4.4" height="229.5"/>
</g>
<!-- table dots -->
<circle cx="582.1" cy="1254.6" r="19.1" fill="#f90f0f"/>
<circle cx="829.7" cy="1254.6" r="19.1" fill="#f90f0f"/>
<circle cx="582.1" cy="1316.5" r="19.1" fill="#fdb507"/>
<circle cx="829.7" cy="1316.5" r="19.1" fill="#50f018"/>
<circle cx="582.1" cy="1376.3" r="19.1" fill="#50f018"/>
<circle cx="829.7" cy="1376.3" r="19.1" fill="#50f018"/>
<!--TEXT_END-->
</svg>
</body>
</html>
